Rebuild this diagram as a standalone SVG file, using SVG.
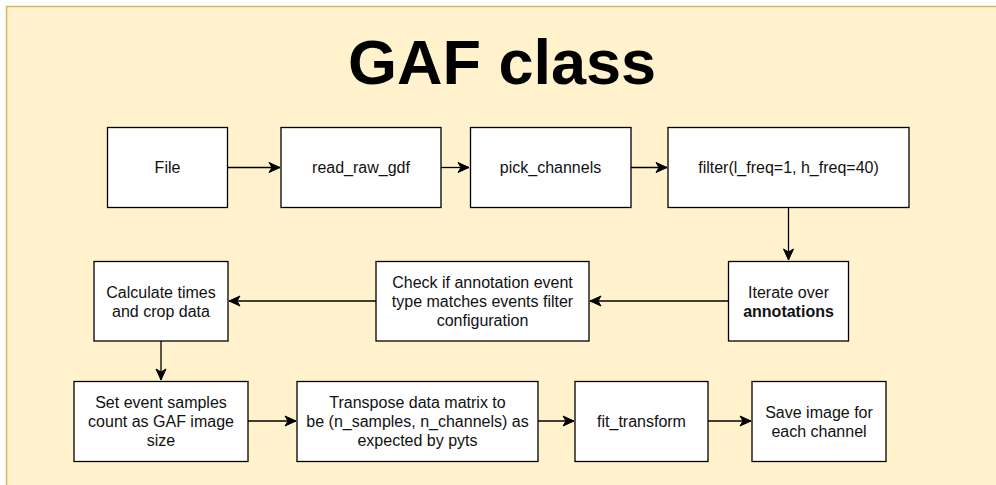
<svg xmlns="http://www.w3.org/2000/svg" width="996" height="485" viewBox="0 0 996 485">
<defs>
<marker id="arr" markerUnits="userSpaceOnUse" markerWidth="14" markerHeight="12" viewBox="-12 -6 14 12" refX="0" refY="0" orient="auto">
<path d="M-11,-5 L0,0 L-11,5 L-8,0 z" fill="#000" stroke="#000" stroke-width="1" stroke-linejoin="miter"/>
</marker>
<style>
.box{fill:#fff;stroke:#000;stroke-width:1.3}
.t{font-family:"Liberation Sans",Arial,sans-serif;font-size:16px;fill:#111;text-anchor:middle}
.b{font-weight:bold}
.c{fill:none;stroke:#000;stroke-width:1.3;marker-end:url(#arr)}
</style>
</defs>
<rect x="0" y="0" width="996" height="485" fill="#fff"/>
<rect x="6.5" y="6.5" width="1000" height="490" fill="#fff2cc" stroke="#d6b656" stroke-width="1.5"/>
<text x="502" y="84" font-family="'Liberation Sans',Arial,sans-serif" font-size="63" font-weight="bold" text-anchor="middle" fill="#000">GAF class</text>

<g id="connectors">
<path class="c" d="M228,167.5 H280"/>
<path class="c" d="M441,167.5 H469"/>
<path class="c" d="M631,167.5 H667"/>
<path class="c" d="M788.5,208 V260"/>
<path class="c" d="M728,301 H590"/>
<path class="c" d="M376,301 H229"/>
<path class="c" d="M161,341 V380"/>
<path class="c" d="M248,421 H296"/>
<path class="c" d="M538,421 H574"/>
<path class="c" d="M708,421 H751"/>
</g>

<g id="file">
<rect class="box" x="107.5" y="127.5" width="120" height="80"/>
<text class="t" x="167.5" y="173">File</text>
</g>
<g id="read_raw_gdf">
<rect class="box" x="281" y="127.5" width="160" height="80"/>
<text class="t" x="361" y="173">read_raw_gdf</text>
</g>
<g id="pick_channels">
<rect class="box" x="470.5" y="127.5" width="160.5" height="80"/>
<text class="t" x="550.5" y="173">pick_channels</text>
</g>
<g id="filter">
<rect class="box" x="668" y="127.5" width="241" height="80"/>
<text class="t" x="788.5" y="173">filter(l_freq=1, h_freq=40)</text>
</g>
<g id="iterate">
<rect class="box" x="728.5" y="261.5" width="120" height="79.5"/>
<text class="t" x="788.5" y="297.5">Iterate over</text>
<text class="t b" x="788.5" y="316.5">annotations</text>
</g>
<g id="check">
<rect class="box" x="376" y="261.5" width="213" height="79.5"/>
<text class="t" x="482.5" y="288">Check if annotation event</text>
<text class="t" x="482.5" y="307">type matches events filter</text>
<text class="t" x="482.5" y="326">configuration</text>
</g>
<g id="calculate">
<rect class="box" x="94" y="261.5" width="134" height="79.5"/>
<text class="t" x="161" y="297.5">Calculate times</text>
<text class="t" x="161" y="316.5">and crop data</text>
</g>
<g id="set_event">
<rect class="box" x="74" y="381.5" width="174" height="80"/>
<text class="t" x="161" y="408">Set event samples</text>
<text class="t" x="161" y="427">count as GAF image</text>
<text class="t" x="161" y="446">size</text>
</g>
<g id="transpose">
<rect class="box" x="297" y="381.5" width="241" height="80"/>
<text class="t" x="417.5" y="408">Transpose data matrix to</text>
<text class="t" x="417.5" y="427">be (n_samples, n_channels) as</text>
<text class="t" x="417.5" y="446">expected by pyts</text>
</g>
<g id="fit_transform">
<rect class="box" x="575" y="381.5" width="133" height="80"/>
<text class="t" x="641.5" y="427">fit_transform</text>
</g>
<g id="save">
<rect class="box" x="752" y="381.5" width="134" height="80"/>
<text class="t" x="819" y="417.5">Save image for</text>
<text class="t" x="819" y="436.5">each channel</text>
</g>
</svg>
